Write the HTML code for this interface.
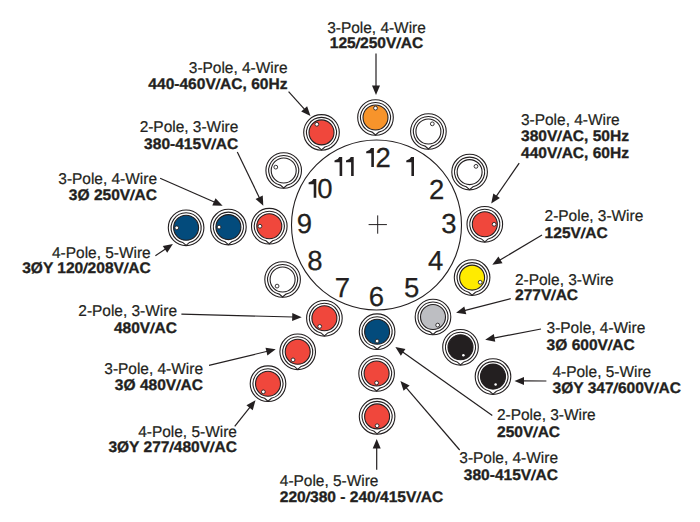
<!DOCTYPE html><html><head><meta charset="utf-8"><style>html,body{margin:0;padding:0;background:#fff;width:700px;height:522px;overflow:hidden}svg{display:block}text{font-family:"Liberation Sans",sans-serif}</style></head><body><svg width="700" height="522" viewBox="0 0 700 522" font-family="Liberation Sans, sans-serif" fill="#231f20" text-rendering="geometricPrecision"><rect width="700" height="522" fill="#fff"/><circle cx="376.5" cy="225.0" r="85" fill="none" stroke="#231f20" stroke-width="1.1"/><path d="M 368.6 224.6 H 386.9 M 377.7 215.4 V 233.7" stroke="#231f20" stroke-width="1"/><text x="375.41" y="166.80" font-size="27.5" stroke="#231f20" stroke-width="0.25">2</text><text x="317.26" y="197.60" font-size="27.5" stroke="#231f20" stroke-width="0.25">0</text><text x="428.91" y="198.60" font-size="27.5" stroke="#231f20" stroke-width="0.25">2</text><text x="441.31" y="233.00" font-size="27.5" stroke="#231f20" stroke-width="0.25">3</text><text x="428.11" y="269.60" font-size="27.5" stroke="#231f20" stroke-width="0.25">4</text><text x="403.91" y="297.00" font-size="27.5" stroke="#231f20" stroke-width="0.25">5</text><text x="368.71" y="305.90" font-size="27.5" stroke="#231f20" stroke-width="0.25">6</text><text x="334.76" y="296.80" font-size="27.5" stroke="#231f20" stroke-width="0.25">7</text><text x="307.16" y="269.90" font-size="27.5" stroke="#231f20" stroke-width="0.25">8</text><text x="296.86" y="232.70" font-size="27.5" stroke="#231f20" stroke-width="0.25">9</text><path d="M 373.90 148.10 L 373.90 167.00 L 371.30 167.00 L 371.30 153.30 L 366.20 153.30 L 366.20 151.60 Q 369.90 150.90 371.00 148.10 Z" fill="#231f20"/><path d="M 342.20 157.10 L 342.20 175.90 L 339.60 175.90 L 339.60 162.30 L 334.50 162.30 L 334.50 160.60 Q 338.20 159.90 339.30 157.10 Z" fill="#231f20"/><path d="M 353.70 157.10 L 353.70 175.90 L 351.10 175.90 L 351.10 162.30 L 346.00 162.30 L 346.00 160.60 Q 349.70 159.90 350.80 157.10 Z" fill="#231f20"/><path d="M 414.00 157.10 L 414.00 175.90 L 411.40 175.90 L 411.40 162.30 L 406.30 162.30 L 406.30 160.60 Q 410.00 159.90 411.10 157.10 Z" fill="#231f20"/><path d="M 316.30 179.00 L 316.30 197.70 L 313.70 197.70 L 313.70 184.20 L 308.60 184.20 L 308.60 182.50 Q 312.30 181.80 313.40 179.00 Z" fill="#231f20"/><g transform="translate(375.5,117.5)"><circle r="17.8" fill="#fff" stroke="#231f20" stroke-width="1.1"/><path d="M 3.37 14.62 A 15.0 15.0 0 1 0 -3.37 14.62 L 0 17.50 Z" fill="#fff" stroke="#231f20" stroke-width="1.1"/><circle r="12.5" fill="#f7942b" stroke="#231f20" stroke-width="1.1"/><circle cx="0.00" cy="-9.35" r="1.9" fill="#fff" stroke="#231f20" stroke-width="0.9"/></g><g transform="translate(321.5,132.4)"><circle r="17.8" fill="#fff" stroke="#231f20" stroke-width="1.1"/><path d="M 3.37 14.62 A 15.0 15.0 0 1 0 -3.37 14.62 L 0 17.50 Z" fill="#fff" stroke="#231f20" stroke-width="1.1"/><circle r="12.5" fill="#f0473c" stroke="#231f20" stroke-width="1.1"/><circle cx="-4.68" cy="-8.10" r="1.9" fill="#fff" stroke="#231f20" stroke-width="0.9"/></g><g transform="translate(428.4,131.5)"><circle r="17.8" fill="#fff" stroke="#231f20" stroke-width="1.1"/><path d="M 3.37 14.62 A 15.0 15.0 0 1 0 -3.37 14.62 L 0 17.50 Z" fill="#fff" stroke="#231f20" stroke-width="1.1"/><circle r="12.5" fill="#ffffff" stroke="#231f20" stroke-width="1.1"/><circle cx="3.90" cy="-7.66" r="1.9" fill="#fff" stroke="#231f20" stroke-width="0.9"/></g><g transform="translate(469.6,172.1)"><circle r="17.8" fill="#fff" stroke="#231f20" stroke-width="1.1"/><path d="M 3.37 14.62 A 15.0 15.0 0 1 0 -3.37 14.62 L 0 17.50 Z" fill="#fff" stroke="#231f20" stroke-width="1.1"/><circle r="12.5" fill="#ffffff" stroke="#231f20" stroke-width="1.1"/><circle cx="6.39" cy="-5.75" r="1.9" fill="#fff" stroke="#231f20" stroke-width="0.9"/></g><g transform="translate(484.8,224.3)"><circle r="17.8" fill="#fff" stroke="#231f20" stroke-width="1.1"/><path d="M 3.37 14.62 A 15.0 15.0 0 1 0 -3.37 14.62 L 0 17.50 Z" fill="#fff" stroke="#231f20" stroke-width="1.1"/><circle r="12.5" fill="#f0473c" stroke="#231f20" stroke-width="1.1"/><circle cx="9.35" cy="-0.00" r="1.9" fill="#fff" stroke="#231f20" stroke-width="0.9"/></g><g transform="translate(472.1,277.6)"><circle r="17.8" fill="#fff" stroke="#231f20" stroke-width="1.1"/><path d="M 3.37 14.62 A 15.0 15.0 0 1 0 -3.37 14.62 L 0 17.50 Z" fill="#fff" stroke="#231f20" stroke-width="1.1"/><circle r="12.5" fill="#ffeb00" stroke="#231f20" stroke-width="1.1"/><circle cx="8.10" cy="4.67" r="1.9" fill="#fff" stroke="#231f20" stroke-width="0.9"/></g><g transform="translate(433.0,317.0)"><circle r="17.8" fill="#fff" stroke="#231f20" stroke-width="1.1"/><path d="M 3.37 14.62 A 15.0 15.0 0 1 0 -3.37 14.62 L 0 17.50 Z" fill="#fff" stroke="#231f20" stroke-width="1.1"/><circle r="12.5" fill="#bdbec2" stroke="#231f20" stroke-width="1.1"/><circle cx="4.67" cy="8.10" r="1.9" fill="#fff" stroke="#231f20" stroke-width="0.9"/></g><g transform="translate(377.1,331.7)"><circle r="17.8" fill="#fff" stroke="#231f20" stroke-width="1.1"/><path d="M 3.37 14.62 A 15.0 15.0 0 1 0 -3.37 14.62 L 0 17.50 Z" fill="#fff" stroke="#231f20" stroke-width="1.1"/><circle r="12.5" fill="#034b7c" stroke="#231f20" stroke-width="1.1"/><circle cx="0.00" cy="9.35" r="1.9" fill="#fff" stroke="#231f20" stroke-width="0.9"/></g><g transform="translate(324.4,318.3)"><circle r="17.8" fill="#fff" stroke="#231f20" stroke-width="1.1"/><path d="M 3.37 14.62 A 15.0 15.0 0 1 0 -3.37 14.62 L 0 17.50 Z" fill="#fff" stroke="#231f20" stroke-width="1.1"/><circle r="12.5" fill="#f0473c" stroke="#231f20" stroke-width="1.1"/><circle cx="-4.68" cy="8.10" r="1.9" fill="#fff" stroke="#231f20" stroke-width="0.9"/></g><g transform="translate(282.6,279.5)"><circle r="17.8" fill="#fff" stroke="#231f20" stroke-width="1.1"/><path d="M 3.37 14.62 A 15.0 15.0 0 1 0 -3.37 14.62 L 0 17.50 Z" fill="#fff" stroke="#231f20" stroke-width="1.1"/><circle r="12.5" fill="#ffffff" stroke="#231f20" stroke-width="1.1"/><circle cx="-5.53" cy="6.59" r="1.9" fill="#fff" stroke="#231f20" stroke-width="0.9"/></g><g transform="translate(269.3,226.2)"><circle r="17.8" fill="#fff" stroke="#231f20" stroke-width="1.1"/><path d="M 3.37 14.62 A 15.0 15.0 0 1 0 -3.37 14.62 L 0 17.50 Z" fill="#fff" stroke="#231f20" stroke-width="1.1"/><circle r="12.5" fill="#f0473c" stroke="#231f20" stroke-width="1.1"/><circle cx="-9.35" cy="0.00" r="1.9" fill="#fff" stroke="#231f20" stroke-width="0.9"/></g><g transform="translate(283.7,170.5)"><circle r="17.8" fill="#fff" stroke="#231f20" stroke-width="1.1"/><path d="M 3.37 14.62 A 15.0 15.0 0 1 0 -3.37 14.62 L 0 17.50 Z" fill="#fff" stroke="#231f20" stroke-width="1.1"/><circle r="12.5" fill="#ffffff" stroke="#231f20" stroke-width="1.1"/><circle cx="-7.92" cy="-3.36" r="1.9" fill="#fff" stroke="#231f20" stroke-width="0.9"/></g><g transform="translate(228.4,227.1)"><circle r="17.8" fill="#fff" stroke="#231f20" stroke-width="1.1"/><path d="M 3.37 14.62 A 15.0 15.0 0 1 0 -3.37 14.62 L 0 17.50 Z" fill="#fff" stroke="#231f20" stroke-width="1.1"/><circle r="12.5" fill="#034b7c" stroke="#231f20" stroke-width="1.1"/><circle cx="-9.35" cy="0.00" r="1.9" fill="#fff" stroke="#231f20" stroke-width="0.9"/></g><g transform="translate(186.1,227.8)"><circle r="17.8" fill="#fff" stroke="#231f20" stroke-width="1.1"/><path d="M 3.37 14.62 A 15.0 15.0 0 1 0 -3.37 14.62 L 0 17.50 Z" fill="#fff" stroke="#231f20" stroke-width="1.1"/><circle r="12.5" fill="#034b7c" stroke="#231f20" stroke-width="1.1"/><circle cx="-9.35" cy="0.00" r="1.9" fill="#fff" stroke="#231f20" stroke-width="0.9"/></g><g transform="translate(460.5,347.3)"><circle r="17.8" fill="#fff" stroke="#231f20" stroke-width="1.1"/><path d="M 3.37 14.62 A 15.0 15.0 0 1 0 -3.37 14.62 L 0 17.50 Z" fill="#fff" stroke="#231f20" stroke-width="1.1"/><circle r="12.5" fill="#231f20" stroke="#231f20" stroke-width="1.1"/><circle cx="2.87" cy="7.89" r="1.25" fill="#fff"/></g><g transform="translate(493.0,376.6)"><circle r="17.8" fill="#fff" stroke="#231f20" stroke-width="1.1"/><path d="M 3.37 14.62 A 15.0 15.0 0 1 0 -3.37 14.62 L 0 17.50 Z" fill="#fff" stroke="#231f20" stroke-width="1.1"/><circle r="12.5" fill="#231f20" stroke="#231f20" stroke-width="1.1"/><circle cx="2.60" cy="7.99" r="1.25" fill="#fff"/></g><g transform="translate(376.6,373.5)"><circle r="17.8" fill="#fff" stroke="#231f20" stroke-width="1.1"/><path d="M 3.37 14.62 A 15.0 15.0 0 1 0 -3.37 14.62 L 0 17.50 Z" fill="#fff" stroke="#231f20" stroke-width="1.1"/><circle r="12.5" fill="#f0473c" stroke="#231f20" stroke-width="1.1"/><circle cx="0.00" cy="9.35" r="1.9" fill="#fff" stroke="#231f20" stroke-width="0.9"/></g><g transform="translate(377.1,416.4)"><circle r="17.8" fill="#fff" stroke="#231f20" stroke-width="1.1"/><path d="M 3.37 14.62 A 15.0 15.0 0 1 0 -3.37 14.62 L 0 17.50 Z" fill="#fff" stroke="#231f20" stroke-width="1.1"/><circle r="12.5" fill="#f0473c" stroke="#231f20" stroke-width="1.1"/><circle cx="0.00" cy="9.35" r="1.9" fill="#fff" stroke="#231f20" stroke-width="0.9"/></g><g transform="translate(297.7,351.8)"><circle r="17.8" fill="#fff" stroke="#231f20" stroke-width="1.1"/><path d="M 3.37 14.62 A 15.0 15.0 0 1 0 -3.37 14.62 L 0 17.50 Z" fill="#fff" stroke="#231f20" stroke-width="1.1"/><circle r="12.5" fill="#f0473c" stroke="#231f20" stroke-width="1.1"/><circle cx="-4.68" cy="8.10" r="1.9" fill="#fff" stroke="#231f20" stroke-width="0.9"/></g><g transform="translate(268.0,383.7)"><circle r="17.8" fill="#fff" stroke="#231f20" stroke-width="1.1"/><path d="M 3.37 14.62 A 15.0 15.0 0 1 0 -3.37 14.62 L 0 17.50 Z" fill="#fff" stroke="#231f20" stroke-width="1.1"/><circle r="12.5" fill="#f0473c" stroke="#231f20" stroke-width="1.1"/><circle cx="-4.68" cy="8.10" r="1.9" fill="#fff" stroke="#231f20" stroke-width="0.9"/></g><line x1="376.00" y1="53.40" x2="376.00" y2="86.60" stroke="#231f20" stroke-width="1.2"/><path d="M 376.00 95.10 L 372.00 85.60 L 380.00 85.60 Z" fill="#231f20"/><line x1="288.60" y1="91.60" x2="304.82" y2="109.67" stroke="#231f20" stroke-width="1.2"/><path d="M 310.50 116.00 L 301.18 111.60 L 307.13 106.26 Z" fill="#231f20"/><line x1="237.30" y1="152.10" x2="259.60" y2="198.15" stroke="#231f20" stroke-width="1.2"/><path d="M 263.30 205.80 L 255.56 198.99 L 262.76 195.51 Z" fill="#231f20"/><line x1="160.10" y1="178.20" x2="214.82" y2="202.28" stroke="#231f20" stroke-width="1.2"/><path d="M 222.60 205.70 L 212.29 205.54 L 215.52 198.21 Z" fill="#231f20"/><line x1="155.40" y1="255.70" x2="165.82" y2="248.80" stroke="#231f20" stroke-width="1.2"/><path d="M 172.90 244.10 L 167.19 252.68 L 162.77 246.01 Z" fill="#231f20"/><line x1="181.40" y1="314.20" x2="293.20" y2="316.99" stroke="#231f20" stroke-width="1.2"/><path d="M 301.70 317.20 L 292.10 320.96 L 292.30 312.96 Z" fill="#231f20"/><line x1="209.00" y1="365.30" x2="267.43" y2="351.28" stroke="#231f20" stroke-width="1.2"/><path d="M 275.70 349.30 L 267.40 355.41 L 265.53 347.63 Z" fill="#231f20"/><line x1="234.70" y1="426.40" x2="250.21" y2="406.86" stroke="#231f20" stroke-width="1.2"/><path d="M 255.50 400.20 L 252.73 410.13 L 246.46 405.15 Z" fill="#231f20"/><line x1="376.70" y1="469.70" x2="376.70" y2="447.40" stroke="#231f20" stroke-width="1.2"/><path d="M 376.70 438.90 L 380.70 448.40 L 372.70 448.40 Z" fill="#231f20"/><line x1="459.70" y1="450.00" x2="405.94" y2="387.45" stroke="#231f20" stroke-width="1.2"/><path d="M 400.40 381.00 L 409.63 385.60 L 403.56 390.81 Z" fill="#231f20"/><line x1="492.30" y1="415.50" x2="402.34" y2="351.81" stroke="#231f20" stroke-width="1.2"/><path d="M 395.40 346.90 L 405.46 349.12 L 400.84 355.65 Z" fill="#231f20"/><line x1="546.40" y1="381.00" x2="523.00" y2="380.93" stroke="#231f20" stroke-width="1.2"/><path d="M 514.50 380.90 L 524.01 376.93 L 523.99 384.93 Z" fill="#231f20"/><line x1="541.00" y1="329.00" x2="493.55" y2="338.10" stroke="#231f20" stroke-width="1.2"/><path d="M 485.20 339.70 L 493.78 333.98 L 495.28 341.84 Z" fill="#231f20"/><line x1="510.70" y1="298.60" x2="464.33" y2="310.66" stroke="#231f20" stroke-width="1.2"/><path d="M 456.10 312.80 L 464.29 306.54 L 466.30 314.28 Z" fill="#231f20"/><line x1="542.00" y1="235.00" x2="499.60" y2="260.34" stroke="#231f20" stroke-width="1.2"/><path d="M 492.30 264.70 L 498.40 256.39 L 502.51 263.26 Z" fill="#231f20"/><line x1="519.20" y1="163.20" x2="496.04" y2="196.61" stroke="#231f20" stroke-width="1.2"/><path d="M 491.20 203.60 L 493.32 193.51 L 499.90 198.07 Z" fill="#231f20"/><text transform="translate(376.5 32.95) scale(0.9841 1)" text-anchor="middle" font-size="15.7" stroke="#231f20" stroke-width="0.22">3-Pole, 4-Wire</text><text transform="translate(376.5 48.45) scale(1.0163 1)" text-anchor="middle" font-weight="bold" font-size="15.3" stroke="#231f20" stroke-width="0.32">125<tspan font-family="Liberation Serif" stroke-width="0.9">/</tspan>250V<tspan font-family="Liberation Serif" stroke-width="0.9">/</tspan>AC</text><text transform="translate(287.5 72.95) scale(0.9841 1)" text-anchor="end" font-size="15.7" stroke="#231f20" stroke-width="0.22">3-Pole, 4-Wire</text><text transform="translate(287.5 88.75) scale(1.0163 1)" text-anchor="end" font-weight="bold" font-size="15.3" stroke="#231f20" stroke-width="0.32">440-460V<tspan font-family="Liberation Serif" stroke-width="0.9">/</tspan>AC, 60Hz</text><text transform="translate(238.3 131.95) scale(0.9841 1)" text-anchor="end" font-size="15.7" stroke="#231f20" stroke-width="0.22">2-Pole, 3-Wire</text><text transform="translate(238.3 148.85) scale(1.0163 1)" text-anchor="end" font-weight="bold" font-size="15.3" stroke="#231f20" stroke-width="0.32">380-415V<tspan font-family="Liberation Serif" stroke-width="0.9">/</tspan>AC</text><text transform="translate(157.0 183.95) scale(0.9841 1)" text-anchor="end" font-size="15.7" stroke="#231f20" stroke-width="0.22">3-Pole, 4-Wire</text><text transform="translate(157.0 199.85) scale(1.0163 1)" text-anchor="end" font-weight="bold" font-size="15.3" stroke="#231f20" stroke-width="0.32">3Ø 250V<tspan font-family="Liberation Serif" stroke-width="0.9">/</tspan>AC</text><text transform="translate(150.7 257.95) scale(0.9841 1)" text-anchor="end" font-size="15.7" stroke="#231f20" stroke-width="0.22">4-Pole, 5-Wire</text><text transform="translate(150.7 273.45) scale(1.0163 1)" text-anchor="end" font-weight="bold" font-size="15.3" stroke="#231f20" stroke-width="0.32">3ØY 120<tspan font-family="Liberation Serif" stroke-width="0.9">/</tspan>208V<tspan font-family="Liberation Serif" stroke-width="0.9">/</tspan>AC</text><text transform="translate(177.0 315.95) scale(0.9841 1)" text-anchor="end" font-size="15.7" stroke="#231f20" stroke-width="0.22">2-Pole, 3-Wire</text><text transform="translate(177.0 332.85) scale(1.0163 1)" text-anchor="end" font-weight="bold" font-size="15.3" stroke="#231f20" stroke-width="0.32">480V<tspan font-family="Liberation Serif" stroke-width="0.9">/</tspan>AC</text><text transform="translate(203.0 373.95) scale(0.9841 1)" text-anchor="end" font-size="15.7" stroke="#231f20" stroke-width="0.22">3-Pole, 4-Wire</text><text transform="translate(203.0 389.85) scale(1.0163 1)" text-anchor="end" font-weight="bold" font-size="15.3" stroke="#231f20" stroke-width="0.32">3Ø 480V<tspan font-family="Liberation Serif" stroke-width="0.9">/</tspan>AC</text><text transform="translate(236.9 436.95) scale(0.9841 1)" text-anchor="end" font-size="15.7" stroke="#231f20" stroke-width="0.22">4-Pole, 5-Wire</text><text transform="translate(236.9 452.45) scale(1.0163 1)" text-anchor="end" font-weight="bold" font-size="15.3" stroke="#231f20" stroke-width="0.32">3ØY 277<tspan font-family="Liberation Serif" stroke-width="0.9">/</tspan>480V<tspan font-family="Liberation Serif" stroke-width="0.9">/</tspan>AC</text><text transform="translate(279.8 486.05) scale(0.9841 1)" text-anchor="start" font-size="15.7" stroke="#231f20" stroke-width="0.22">4-Pole, 5-Wire</text><text transform="translate(279.8 501.65) scale(1.0163 1)" text-anchor="start" font-weight="bold" font-size="15.3" stroke="#231f20" stroke-width="0.32">220<tspan font-family="Liberation Serif" stroke-width="0.9">/</tspan>380 - 240<tspan font-family="Liberation Serif" stroke-width="0.9">/</tspan>415V<tspan font-family="Liberation Serif" stroke-width="0.9">/</tspan>AC</text><text transform="translate(558.0 462.95) scale(0.9841 1)" text-anchor="end" font-size="15.7" stroke="#231f20" stroke-width="0.22">3-Pole, 4-Wire</text><text transform="translate(558.0 479.85) scale(1.0163 1)" text-anchor="end" font-weight="bold" font-size="15.3" stroke="#231f20" stroke-width="0.32">380-415V<tspan font-family="Liberation Serif" stroke-width="0.9">/</tspan>AC</text><text transform="translate(497.0 419.95) scale(0.9841 1)" text-anchor="start" font-size="15.7" stroke="#231f20" stroke-width="0.22">2-Pole, 3-Wire</text><text transform="translate(497.0 436.85) scale(1.0163 1)" text-anchor="start" font-weight="bold" font-size="15.3" stroke="#231f20" stroke-width="0.32">250V<tspan font-family="Liberation Serif" stroke-width="0.9">/</tspan>AC</text><text transform="translate(552.5 376.95) scale(0.9841 1)" text-anchor="start" font-size="15.7" stroke="#231f20" stroke-width="0.22">4-Pole, 5-Wire</text><text transform="translate(552.5 392.85) scale(1.0163 1)" text-anchor="start" font-weight="bold" font-size="15.3" stroke="#231f20" stroke-width="0.32">3ØY 347<tspan font-family="Liberation Serif" stroke-width="0.9">/</tspan>600V<tspan font-family="Liberation Serif" stroke-width="0.9">/</tspan>AC</text><text transform="translate(546.6 332.95) scale(0.9841 1)" text-anchor="start" font-size="15.7" stroke="#231f20" stroke-width="0.22">3-Pole, 4-Wire</text><text transform="translate(546.6 349.85) scale(1.0163 1)" text-anchor="start" font-weight="bold" font-size="15.3" stroke="#231f20" stroke-width="0.32">3Ø 600V<tspan font-family="Liberation Serif" stroke-width="0.9">/</tspan>AC</text><text transform="translate(515.0 284.95) scale(0.9841 1)" text-anchor="start" font-size="15.7" stroke="#231f20" stroke-width="0.22">2-Pole, 3-Wire</text><text transform="translate(515.0 300.45) scale(1.0163 1)" text-anchor="start" font-weight="bold" font-size="15.3" stroke="#231f20" stroke-width="0.32">277V<tspan font-family="Liberation Serif" stroke-width="0.9">/</tspan>AC</text><text transform="translate(544.6 220.95) scale(0.9841 1)" text-anchor="start" font-size="15.7" stroke="#231f20" stroke-width="0.22">2-Pole, 3-Wire</text><text transform="translate(544.6 237.85) scale(1.0163 1)" text-anchor="start" font-weight="bold" font-size="15.3" stroke="#231f20" stroke-width="0.32">125V<tspan font-family="Liberation Serif" stroke-width="0.9">/</tspan>AC</text><text transform="translate(521.0 124.85) scale(0.9841 1)" text-anchor="start" font-size="15.7" stroke="#231f20" stroke-width="0.22">3-Pole, 4-Wire</text><text transform="translate(521.0 141.45) scale(1.0163 1)" text-anchor="start" font-weight="bold" font-size="15.3" stroke="#231f20" stroke-width="0.32">380V<tspan font-family="Liberation Serif" stroke-width="0.9">/</tspan>AC, 50Hz</text><text transform="translate(521.0 157.65) scale(1.0163 1)" text-anchor="start" font-weight="bold" font-size="15.3" stroke="#231f20" stroke-width="0.32">440V<tspan font-family="Liberation Serif" stroke-width="0.9">/</tspan>AC, 60Hz</text></svg></body></html>
